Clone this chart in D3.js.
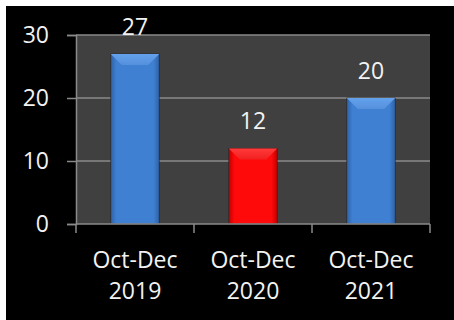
<!DOCTYPE html>
<html>
<head>
<meta charset="utf-8">
<script src="https://cdn.jsdelivr.net/npm/d3@7"></script>
<style>
  html, body { margin: 0; padding: 0; background: #fff; }
  svg { display: block; }
  text { font-family: "Open Sans", sans-serif; fill: #f2f2f2; }
</style>
</head>
<body>
<div id="chart"></div>
<script>
// chart data
var periods = ["Oct-Dec", "Oct-Dec", "Oct-Dec"];
var years = ["2019", "2020", "2021"];
var counts = [27, 12, 20];
var barColors = ["blue", "red", "blue"];
var yTicks = [0, 10, 20, 30];

var W = 454, H = 320, fs = "23px";
var plot = {left: 76, right: 430, top: 35, bottom: 224};

var svg = d3.select("#chart").append("svg").attr("width", W).attr("height", H);

// black backdrop with the white margin at top/left
svg.append("rect").attr("x", 6).attr("y", 6).attr("width", W - 6).attr("height", H - 6).attr("fill", "#000");

var x = d3.scaleBand().domain(years).range([plot.left, plot.right]).paddingInner(0.59).paddingOuter(0.295);
var xEdge = d3.scalePoint().domain(d3.range(years.length + 1)).range([plot.left, plot.right]);
var y = d3.scaleLinear().domain([0, 30]).range([plot.bottom, plot.top]);

// gradients
var defs = svg.append("defs");
var pal = {
  blue: {edge: "#2f63a8", mid: "#3f80d2", bevel: "#64a2ec", bevelEdge: "#5590dc"},
  red: {edge: "#c40000", mid: "#ff0a0a", bevel: "#ff3a3a", bevelEdge: "#f22020"}
};
Object.keys(pal).forEach(function(k){
  var g = defs.append("linearGradient").attr("id", "g-" + k).attr("x1", 0).attr("x2", 1).attr("y1", 0).attr("y2", 0);
  g.append("stop").attr("offset", "0%").attr("stop-color", pal[k].edge);
  g.append("stop").attr("offset", "12%").attr("stop-color", pal[k].mid);
  g.append("stop").attr("offset", "88%").attr("stop-color", pal[k].mid);
  g.append("stop").attr("offset", "100%").attr("stop-color", pal[k].edge);
  var b = defs.append("linearGradient").attr("id", "b-" + k).attr("x1", 0).attr("x2", 0).attr("y1", 0).attr("y2", 1);
  b.append("stop").attr("offset", "0%").attr("stop-color", pal[k].bevel);
  b.append("stop").attr("offset", "100%").attr("stop-color", pal[k].bevelEdge);
});

// plot area
svg.append("rect").attr("x", plot.left).attr("y", plot.top)
  .attr("width", plot.right - plot.left).attr("height", plot.bottom - plot.top).attr("fill", "#404040");

// gridlines
svg.append("g").selectAll("line").data(yTicks.filter(function(d){ return d > 0; })).enter().append("line")
  .attr("x1", plot.left).attr("x2", plot.right)
  .attr("y1", function(d){ return y(d); }).attr("y2", function(d){ return y(d); })
  .attr("stroke", "#8a8a8a").attr("stroke-width", 1.5);

// y axis
var yAxis = svg.append("g").attr("transform", "translate(" + plot.left + ",0)")
  .call(d3.axisLeft(y).tickValues(yTicks).tickSize(9).tickPadding(18));
yAxis.select(".domain").attr("stroke", "#8a8a8a").attr("stroke-width", 1.5);
yAxis.selectAll(".tick line").attr("stroke", "#8a8a8a").attr("stroke-width", 1.5);
yAxis.selectAll(".tick text").style("font-size", fs).attr("fill", "#f2f2f2")
  .style("font-family", "'Open Sans', sans-serif");

// bars
var bars = svg.append("g").selectAll("g").data(counts).enter().append("g");
bars.append("rect")
  .attr("x", function(d, i){ return x(years[i]); })
  .attr("y", function(d){ return y(d); })
  .attr("width", x.bandwidth())
  .attr("height", function(d){ return y(0) - y(d); })
  .attr("fill", function(d, i){ return "url(#g-" + barColors[i] + ")"; })
  .attr("stroke", "#222").attr("stroke-width", 0.6);
var bev = 11;
bars.append("path")
  .attr("d", function(d, i){
    var x0 = x(years[i]), x1 = x0 + x.bandwidth(), t = y(d);
    return "M" + x0 + "," + t + "L" + x1 + "," + t + "L" + (x1 - bev) + "," + (t + bev) + "L" + (x0 + bev) + "," + (t + bev) + "Z";
  })
  .attr("fill", function(d, i){ return "url(#b-" + barColors[i] + ")"; });

// value labels
bars.append("text")
  .attr("x", function(d, i){ return x(years[i]) + x.bandwidth() / 2; })
  .attr("y", function(d){ return y(d) - 19; })
  .attr("text-anchor", "middle").style("font-size", fs)
  .text(function(d){ return d; });

// x axis
var xAxis = svg.append("g").attr("transform", "translate(0," + plot.bottom + ")");
xAxis.append("line").attr("x1", plot.left).attr("x2", plot.right).attr("stroke", "#8a8a8a").attr("stroke-width", 1.5);
xAxis.selectAll(".edge").data(d3.range(years.length + 1)).enter().append("line").attr("class", "edge")
  .attr("x1", function(d){ return xEdge(d); }).attr("x2", function(d){ return xEdge(d); })
  .attr("y1", 0).attr("y2", 9).attr("stroke", "#8a8a8a").attr("stroke-width", 1.5);
var lbl = xAxis.selectAll(".lbl").data(years).enter().append("text").attr("class", "lbl")
  .attr("text-anchor", "middle").style("font-size", fs)
  .attr("x", function(d){ return x(d) + x.bandwidth() / 2; });
lbl.append("tspan").attr("x", function(d){ return x(d) + x.bandwidth() / 2; }).attr("y", 44)
  .text(function(d, i){ return periods[i]; });
lbl.append("tspan").attr("x", function(d){ return x(d) + x.bandwidth() / 2; }).attr("y", 75)
  .text(function(d){ return d; });
</script>
</body>
</html>
